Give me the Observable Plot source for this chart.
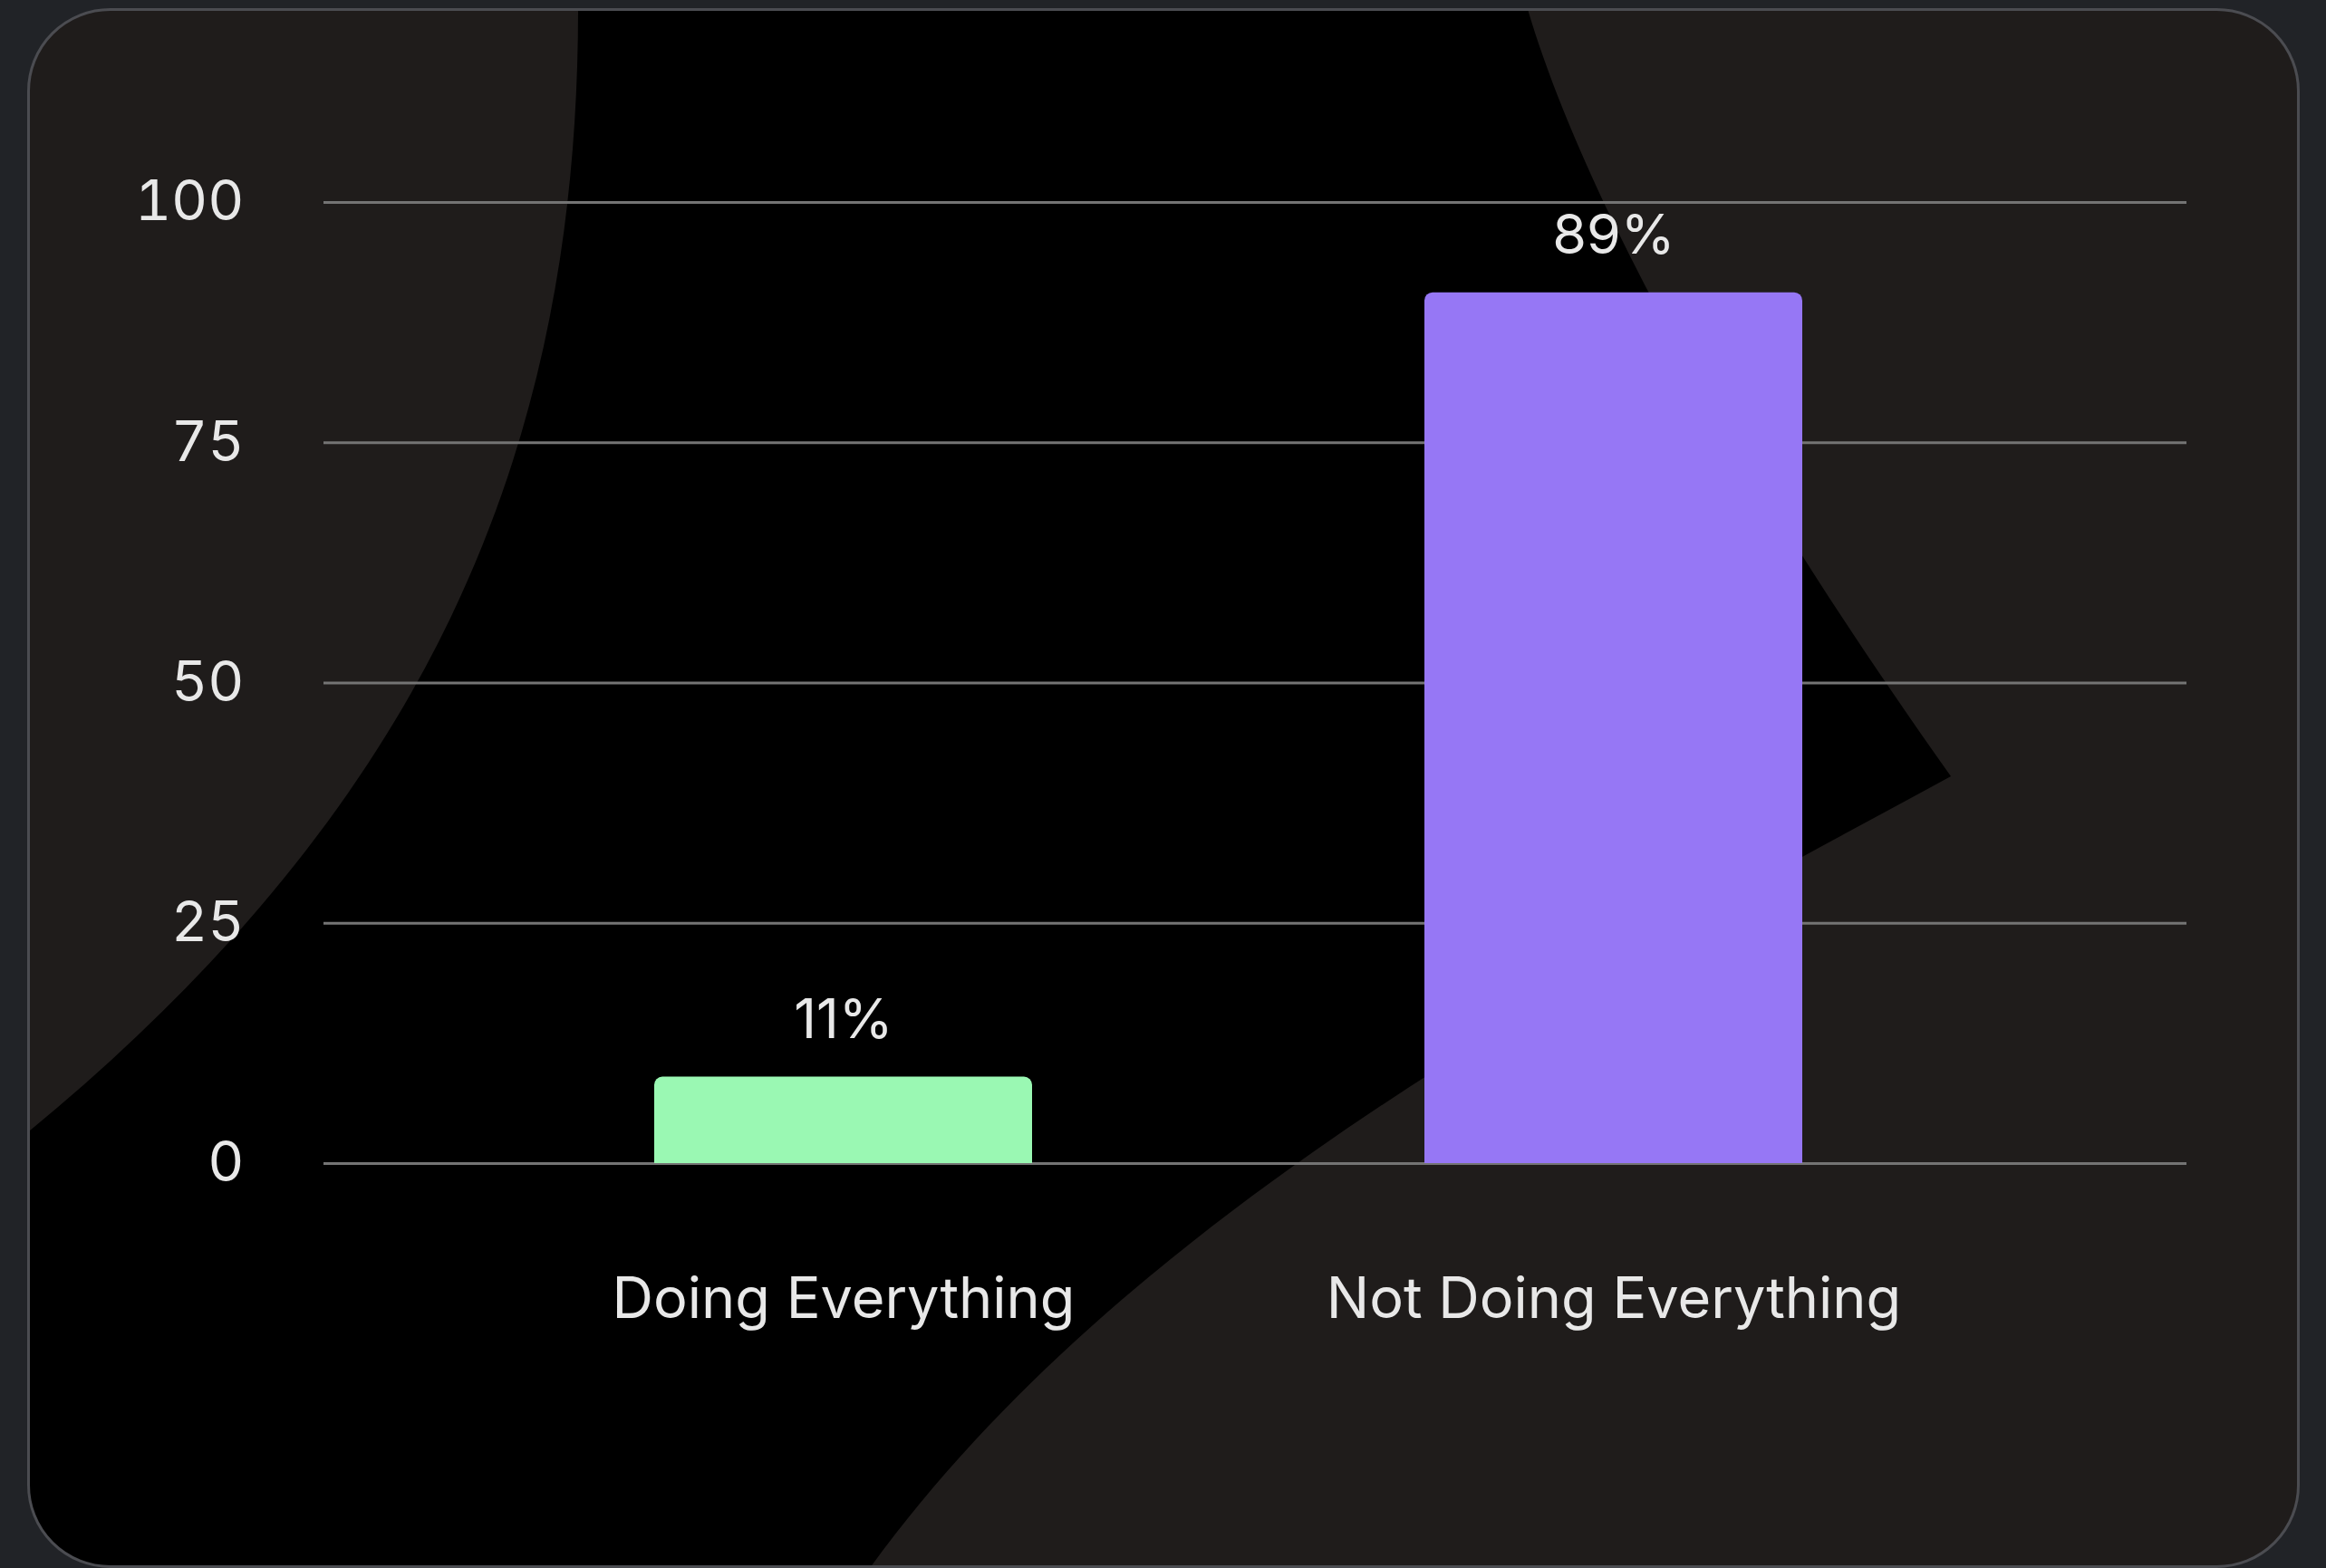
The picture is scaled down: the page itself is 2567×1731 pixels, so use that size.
<!DOCTYPE html>
<html>
<head>
<meta charset="utf-8">
<script src="https://cdn.jsdelivr.net/npm/d3@7"></script>
<script src="https://cdn.jsdelivr.net/npm/@observablehq/plot@0.6"></script>
<style>
  html, body { margin: 0; padding: 0; background: #212327; }
  #wrap { position: relative; width: 2567px; height: 1731px; overflow: hidden; }
  #decor, #chart { position: absolute; left: 0; top: 0; }
  #chart svg { display: block; }
</style>
</head>
<body>
<div id="wrap">
  <svg id="decor" width="2567" height="1731" viewBox="0 0 2567 1731">
    <defs>
      <clipPath id="cardClip">
        <rect x="31.5" y="10.5" width="2505" height="1719" rx="90" ry="90"></rect>
      </clipPath>
    </defs>
    <rect x="31.5" y="10.5" width="2505" height="1719" rx="90" ry="90" fill="#1f1c1b"></rect>
    <path clip-path="url(#cardClip)" fill="#000"
      d="M 638,0 L 1683,0 C 1740,200 1900,500 2153,857 C 1780,1060 1250,1330 960,1731 L 0,1731 L 0,1275 C 470,900 640,500 638,0 Z"></path>
    <rect x="31.5" y="10.5" width="2505" height="1719" rx="90" ry="90" fill="none" stroke="#4b4c51" stroke-width="3"></rect>
  </svg>
  <div id="chart"></div>
</div>
<script>
const categories = ["Doing Everything", "Not Doing Everything"];
const values = [9, 90.6];
const valueLabels = ["11%", "89%"];
const barColors = ["#9af8b3", "#9677f5"];
const yTicks = [0, 25, 50, 75, 100];

const data = categories.map((c, i) => ({category: c, value: values[i], label: valueLabels[i]}));

const chart = Plot.plot({
  width: 2567,
  height: 1731,
  marginLeft: 357,
  marginRight: 154,
  marginTop: 223,
  marginBottom: 447,
  style: {background: "transparent", fontFamily: "Inter, 'Noto Sans', sans-serif", color: "#e8e8e8", fontSize: "64px"},
  x: {domain: categories, paddingInner: 0.51, paddingOuter: 0.464, align: 0.462, axis: null},
  y: {domain: [0, 100], axis: null},
  color: {domain: categories, range: barColors},
  marks: [
    Plot.ruleY(yTicks, {stroke: "#747474", strokeWidth: 3}),
    Plot.barY(data, {x: "category", y: "value", fill: "category", ry1: 9}),
    Plot.text(data, {x: "category", y: "value", text: "label", lineAnchor: "bottom", dy: -43, fill: "#e8e8e8", fontSize: 61}),
    Plot.axisY(yTicks, {tickSize: 0, tickPadding: 88, fontSize: 62, fill: "#e8e8e8", label: null}),
    Plot.axisX({tickSize: 0, tickPadding: 126, fontSize: 63, fill: "#e8e8e8", label: null})
  ]
});
document.getElementById("chart").appendChild(chart);
</script>
</body>
</html>
